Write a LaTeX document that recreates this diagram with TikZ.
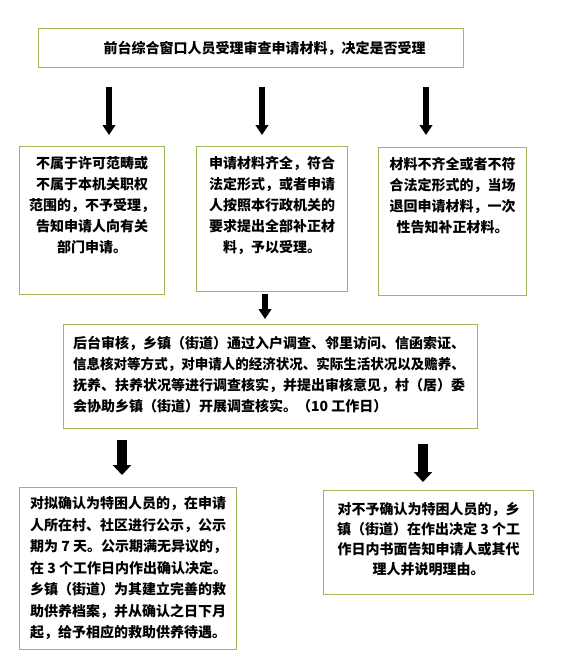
\documentclass[tikz,border=0pt]{standalone}
\usepackage{fontspec}
\usepackage{xcolor}
\usetikzlibrary{arrows.meta,calc}
\newfontfamily\cjk{Noto Sans CJK SC}
\definecolor{boxborder}{RGB}{155,187,89}
\definecolor{arrowfill}{RGB}{0,0,0}

\begin{document}
\begin{tikzpicture}[
    x=1pt, y=-1pt,
    frame/.style={draw=boxborder, line width=1.1pt, fill=white, inner sep=0pt, anchor=north west},
    txt/.style={text=black, inner sep=0pt, font=\cjk\bfseries\fontsize{14}{21}\selectfont},
    thinarrow/.style={arrowfill, line width=6.5pt, -{Triangle[length=10pt, width=12.5pt]}},
    widearrow/.style={arrowfill, line width=10pt, -{Triangle[length=10pt, width=18pt]}}
]

% Page
\useasboundingbox (0,0) rectangle (566,657);
\fill[white] (0,0) rectangle (566,657);

% Arrow columns
\coordinate (cA) at (109,0);
\coordinate (cB) at (262,0);
\coordinate (cC) at (426,0);
\coordinate (cM) at (265,0);
\coordinate (cL) at (122,0);
\coordinate (cR) at (423,0);

% Intake Box
\node[frame, minimum width=425pt, minimum height=39pt] (intake) at (38,28) {};
\node[txt] (intaketxt) at ([xshift=13.5pt]intake.center) {前台综合窗口人员受理审查申请材料，决定是否受理};

% Three Outcome Boxes
\node[frame, minimum width=145pt, minimum height=148pt] (reject) at (19,146) {};
\node[txt, align=center, anchor=north] (rejecttxt) at ([yshift=-10.5pt]reject.north) {
    不属于许可范畴或\\
    不属于本机关职权\\
    范围的，不予受理，\\
    告知申请人向有关\\
    部门申请。
};

\node[frame, minimum width=151pt, minimum height=145pt] (accept) at (196,146) {};
\node[txt, align=center, anchor=north] (accepttxt) at ([yshift=-10.5pt]accept.north) {
    申请材料齐全，符合\\
    法定形式，或者申请\\
    人按照本行政机关的\\
    要求提出全部补正材\\
    料，予以受理。
};

\node[frame, minimum width=148pt, minimum height=148pt] (incomplete) at (378,147) {};
\node[txt, align=center, anchor=north] (incompletetxt) at ([yshift=-9.7pt]incomplete.north) {
    材料不齐全或者不符\\
    合法定形式的，当场\\
    退回申请材料，一次\\
    性告知补正材料。
};

% Review Box
\node[frame, minimum width=414pt, minimum height=104pt] (review) at (63,324) {};
\node[txt, align=left, anchor=north west] (reviewtxt) at ([xshift=10pt, yshift=-11.7pt]review.north west) {
    后台审核，乡镇（街道）通过入户调查、邻里访问、信函索证、\\
    \scalebox{0.965}[1]{信息核对等方式，对申请人的经济状况、实际生活状况以及赡养、}\\
    抚养、扶养状况等进行调查核实，并提出审核意见，村（居）委\\
    会协助乡镇（街道）开展调查核实。（10 工作日）
};

% Decision Boxes
\node[frame, minimum width=217pt, minimum height=162pt] (confirm) at (19,487) {};
\node[txt, align=left, anchor=north west, font=\cjk\bfseries\fontsize{14}{21.5}\selectfont] (confirmtxt) at ([xshift=11pt, yshift=-9.7pt]confirm.north west) {
    对拟确认为特困人员的，在申请\\
    人所在村、社区进行公示，公示\\
    期为 7 天。公示期满无异议的，\\
    在 3 个工作日内作出确认决定。\\
    乡镇（街道）为其建立完善的救\\
    助供养档案，并从确认之日下月\\
    起，给予相应的救助供养待遇。
};

\node[frame, minimum width=210pt, minimum height=104pt] (deny) at (323,490) {};
\node[txt, align=center, anchor=north, font=\cjk\bfseries\fontsize{14}{20}\selectfont] (denytxt) at ([yshift=-11.7pt]deny.north) {
    对不予确认为特困人员的，乡\\
    镇（街道）在作出决定 3 个工\\
    作日内书面告知申请人或其代\\
    理人并说明理由。
};

% Arrows
\draw[thinarrow, shorten <=19pt, shorten >=11pt] (intake.south -| cA) -- (reject.north -| cA);
\draw[thinarrow, shorten <=19pt, shorten >=11pt] (intake.south -| cB) -- (accept.north -| cB);
\draw[thinarrow, shorten <=19pt, shorten >=12pt] (intake.south -| cC) -- (incomplete.north -| cC);
\draw[thinarrow, shorten <=2pt, shorten >=5pt] (accept.south -| cM) -- (review.north -| cM);
\draw[widearrow, shorten <=11pt, shorten >=12pt] (review.south -| cL) -- (confirm.north -| cL);
\draw[widearrow, shorten <=15pt, shorten >=8pt] (review.south -| cR) -- (deny.north -| cR);

\end{tikzpicture}
\end{document}
